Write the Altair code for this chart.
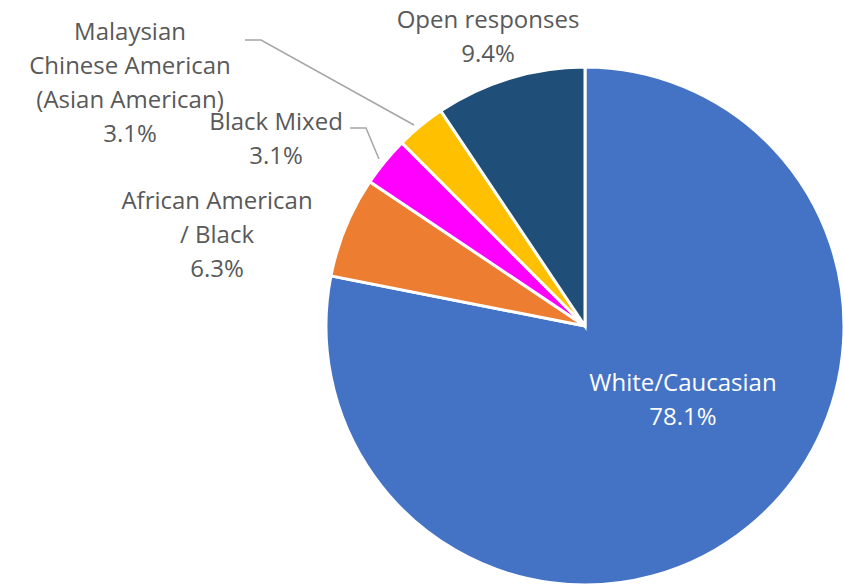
import altair as alt
import pandas as pd

categories = ["White/Caucasian", "African American / Black", "Black Mixed",
              "Malaysian Chinese American (Asian American)", "Open responses"]
values = [78.1, 6.3, 3.1, 3.1, 9.4]
colors = ["#4472C4", "#ED7D31", "#FF00FF", "#FFC000", "#1F4E79"]

label_lines = [
    "White/Caucasian\n78.1%",
    "African American\n/ Black\n6.3%",
    "Black Mixed\n3.1%",
    "Malaysian\nChinese American\n(Asian American)\n3.1%",
    "Open responses\n9.4%",
]

# label layout (pixel centers of first line) and text colours
label_x = [683, 217, 276, 130, 488]
label_y = [384, 202, 123, 33, 21]
label_color = ["#FFFFFF", "#595959", "#595959", "#595959", "#595959"]

pie_df = pd.DataFrame({"category": categories, "value": values, "order": list(range(len(values)))})
lab_df = pd.DataFrame({"text": label_lines, "x": label_x, "y": label_y, "c": label_color})

# leader lines
lead_df = pd.DataFrame({
    "g": ["m", "m", "m", "b", "b", "b"],
    "i": [0, 1, 2, 0, 1, 2],
    "x": [245, 261, 414, 350, 366, 379],
    "y": [40, 40, 125, 128, 128, 159],
})

pie = alt.Chart(pie_df).mark_arc(outerRadius=259, stroke="white", strokeWidth=3).encode(
    theta=alt.Theta("value:Q", stack=True),
    order=alt.Order("order:Q"),
    color=alt.Color("category:N", scale=alt.Scale(domain=categories, range=colors), legend=None),
    x=alt.value(585),
    y=alt.value(326),
)

leads = alt.Chart(lead_df).mark_line(color="#A6A6A6", strokeWidth=1.5).encode(
    x=alt.X("x:Q", scale=None, axis=None),
    y=alt.Y("y:Q", scale=None, axis=None),
    detail="g:N",
    order="i:Q",
)

labels = alt.Chart(lab_df).mark_text(
    font="Open Sans", fontSize=24, lineBreak="\n", lineHeight=34,
    align="center", baseline="middle",
).encode(
    x=alt.X("x:Q", scale=None, axis=None),
    y=alt.Y("y:Q", scale=None, axis=None),
    text="text:N",
    color=alt.Color("c:N", scale=None, legend=None),
)

chart = alt.layer(pie, leads, labels).properties(
    width=844, height=584, padding=0, autosize=alt.AutoSizeParams(type="none"),
    background="white",
).configure_view(stroke=None)

chart.save("out.html", embed_options={"renderer": "svg", "actions": False})
